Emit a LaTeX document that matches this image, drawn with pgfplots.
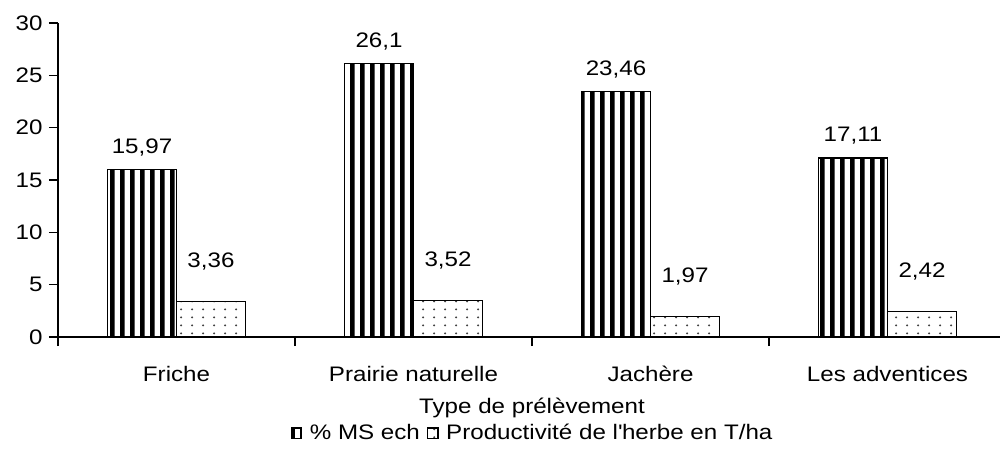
\documentclass[border=0pt]{standalone}
\usepackage{fontspec}
\setmainfont{Liberation Sans}[FakeStretch=1.15]
\usepackage{pgfplots}
\pgfplotsset{compat=1.18}
\usetikzlibrary{patterns}
\pgfdeclarepatternformonly{vstripes}{\pgfqpoint{0pt}{0pt}}{\pgfqpoint{5pt}{40pt}}{\pgfqpoint{5pt}{40pt}}{\pgfpathrectangle{\pgfqpoint{0pt}{0pt}}{\pgfqpoint{2.6pt}{40pt}}\pgfusepath{fill}}
\pgfdeclarepatternformonly{sdots}{\pgfqpoint{0pt}{0pt}}{\pgfqpoint{5.5pt}{4pt}}{\pgfqpoint{5.5pt}{4pt}}{\pgfpathcircle{\pgfqpoint{2.75pt}{2pt}}{0.6pt}\pgfusepath{fill}}
\begin{document}
\fontsize{10.5pt}{12.5pt}\selectfont
\begin{tikzpicture}
\begin{axis}[
  scale only axis, width=474pt, height=157pt,
  at={(0,0)}, anchor=south west,
  xmin=-0.5, xmax=3.5, ymin=0, ymax=30,
  clip=false,
  ybar=0pt, bar width=34.5pt,
  axis x line=bottom, axis y line=left,
  axis line style={-, line width=0.75pt, black},
  ytick={0,5,...,30},
  tick align=outside, major tick length=4.5pt,
  tick style={black, line width=0.75pt},
  xtick={-0.5,0.5,1.5,2.5,3.5},
  x tick label as interval,
  xticklabels={Friche,Prairie naturelle,Jachère,Les adventices},
  x tick label style={anchor=base, yshift=-17.5pt, inner sep=0pt},
  y tick label style={anchor=east, inner sep=0pt, xshift=-3pt},
  xlabel={Type de prélèvement},
  xlabel style={at={(axis description cs:0.5,0)}, anchor=base, yshift=-38pt},
  legend style={at={(axis description cs:0.5,-0.306)}, anchor=center, draw=none, fill=none,
    legend columns=2, /tikz/every even column/.append style={column sep=3pt},
    /tikz/every odd column/.append style={column sep=2pt},
    nodes={inner sep=0.5pt}},
  legend image code/.code={\draw[#1, line width=0.7pt] (0pt,-2.6pt) rectangle (5.2pt,2.6pt); \path (6.5pt,0pt);},
  nodes near coords,
  /pgf/number format/.cd, use comma, assume math mode=true
]
\addplot[draw=black, line width=0.6pt, pattern=vstripes, pattern color=black,
  nodes near coords style={anchor=base, yshift=8pt, black}]
  coordinates {(0,15.97) (1,26.1) (2,23.46) (3,17.11)};
\addplot[draw=black, line width=0.6pt, pattern=sdots, pattern color=black!75,
  nodes near coords style={anchor=base, yshift=17pt, black}]
  coordinates {(0,3.36) (1,3.52) (2,1.97) (3,2.42)};
\legend{\% MS ech, Productivité de l\textquotesingle herbe en T/ha}
\end{axis}
\pgfresetboundingbox
\path[use as bounding box] (-29pt,-64pt) rectangle (471pt,168.5pt);
\end{tikzpicture}
\end{document}
